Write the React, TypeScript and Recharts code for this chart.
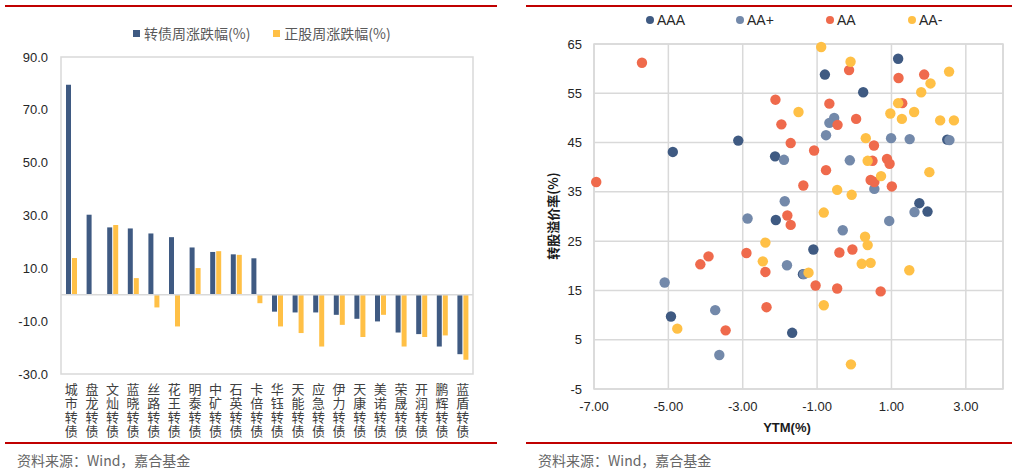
import {
  BarChart, Bar, XAxis, YAxis, ReferenceLine, ReferenceArea,
  ScatterChart, Scatter, CartesianGrid, Label,
} from 'recharts'

const NAVY = '#3F5A82'
const STEEL = '#7389AA'
const RED = '#EF6A4C'
const YELLOW = '#FFC046'
const FONT = '"Liberation Sans", "Noto Sans CJK SC", sans-serif'
const CJK = '"Noto Sans CJK SC", sans-serif'

// left: weekly change of bonds vs underlying stocks
const bondNames = [
  '城市转债', '盘龙转债', '文灿转债', '蓝晓转债', '丝路转债', '花王转债', '明泰转债',
  '中矿转债', '石英转债', '卡倍转债', '华钰转债', '天能转债', '应急转债', '伊力转债',
  '天康转债', '美诺转债', '荣晟转债', '开润转债', '鹏辉转债', '蓝盾转债',
]
const bondChg = [79.5, 30.3, 25.5, 25.1, 23.2, 21.8, 17.9, 16.2, 15.3, 13.8, -6.4, -6.7, -6.7, -7.6, -9.1, -10.1, -14.3, -14.9, -19.6, -22.5]
const stockChg = [13.9, 0.3, 26.4, 6.3, -4.8, -12.0, 10.1, 16.5, 15.1, -3.2, -12.0, -14.5, -19.6, -11.4, -16.0, -7.6, -19.6, -16.0, -15.4, -24.6]
const barTicks = [90, 70, 50, 30, 10, -10, -30]

// right: YTM vs conversion premium, by rating
const aaa = [
  [-4.88, 43.1], [-3.12, 45.4], [-4.93, 9.7], [-0.79, 58.8], [1.18, 62.0], [0.24, 55.2],
  [2.5, 45.6], [-2.13, 42.2], [1.75, 32.7], [1.97, 31.0], [-2.11, 29.3], [-1.1, 23.3],
  [-1.67, 6.4], [-1.38, 18.3],
]
const aaPlus = [
  [-2.87, 29.6], [-5.1, 16.6], [-3.74, 11.0], [-3.63, 1.9], [-0.54, 50.0], [-0.67, 49.0],
  [-0.76, 46.5], [0.99, 45.9], [1.49, 45.7], [2.56, 45.5], [-1.89, 41.5], [-0.12, 41.4],
  [0.54, 35.6], [-1.87, 33.1], [1.62, 30.9], [0.94, 29.1], [-0.31, 27.2], [-1.81, 20.1],
  [-1.35, 18.3],
]
const aa = [
  [-5.71, 61.2], [-6.94, 37.0], [-2.9, 22.6], [-2.39, 18.75], [-3.92, 21.9], [-4.14, 20.3],
  [-3.46, 6.9], [-2.36, 11.6], [-0.14, 59.7], [1.19, 58.1], [1.88, 58.8], [-2.12, 53.7],
  [-0.67, 52.9], [1.29, 53.0], [-0.45, 48.6], [0.05, 49.8], [-1.96, 48.7], [-1.71, 44.9],
  [0.53, 44.4], [-1.08, 43.4], [0.49, 41.3], [0.88, 41.7], [0.95, 40.7], [-0.76, 39.4],
  [0.44, 37.4], [0.54, 37.0], [1.01, 36.1], [-1.37, 36.3], [-1.8, 30.2], [-1.71, 28.3],
  [-0.4, 22.7], [-0.05, 23.3], [-1.04, 16.0], [-0.46, 15.4], [0.71, 14.8],
]
const aaMinus = [
  [-2.39, 24.7], [-2.46, 20.9], [-4.76, 7.25], [-0.89, 64.4], [-0.1, 61.4], [2.55, 59.4],
  [2.05, 57.0], [1.8, 55.2], [-1.5, 51.2], [1.18, 53.0], [0.97, 50.9], [1.61, 51.2],
  [1.28, 49.8], [2.31, 49.5], [2.68, 49.5], [0.31, 45.9], [0.36, 41.3], [2.02, 39.0],
  [0.72, 38.2], [-0.46, 35.4], [-0.07, 34.4], [-0.82, 30.8], [0.29, 25.9], [0.36, 24.2],
  [-1.23, 18.6], [0.2, 20.4], [0.44, 20.6], [1.48, 19.1], [-0.82, 12.0], [-0.09, 0.0],
]
const ytmTicks = [-7, -5, -3, -1, 1, 3]
const premTicks = [-5, 5, 15, 25, 35, 45, 55, 65]

const barData = bondNames.map((name, i) => ({ name, bond: bondChg[i], stock: stockChg[i] }))
const toPts = (arr: number[][]) => arr.map(([x, y]) => ({ x, y }))

const ratings = [
  { name: 'AAA', color: NAVY, data: toPts(aaa) },
  { name: 'AA+', color: STEEL, data: toPts(aaPlus) },
  { name: 'AA', color: RED, data: toPts(aa) },
  { name: 'AA-', color: YELLOW, data: toPts(aaMinus) },
]

// category names are set top-to-bottom, upright
const VerticalTick = ({ x, y, payload }: any) => (
  <text
    x={x} y={y + 1} fontSize={13} fill="#404040" fontFamily={CJK}
    style={{ writingMode: 'vertical-rl', letterSpacing: 1 }}
  >
    {payload.value}
  </text>
)

const Dot = (color: string) => (p: any) => (
  <circle cx={p.cx} cy={p.cy} r={5.2} fill={color} />
)

const redLine = (left: number, top: number, width: number) => (
  <div style={{ position: 'absolute', left, top, width, height: 1.5, background: '#C00000' }} />
)

const source = (left: number) => (
  <div style={{ position: 'absolute', left, top: 450, fontSize: 14, color: '#666', fontFamily: CJK, whiteSpace: 'nowrap' }}>
    资料来源：Wind，嘉合基金
  </div>
)

export default function App() {
  return (
    <div style={{ position: 'absolute', left: 0, top: 0, width: 1016, height: 472, background: '#fff', fontFamily: FONT }}>
      {redLine(5, 5, 492)}
      {redLine(526, 5, 486)}
      {redLine(5, 442, 492)}
      {redLine(526, 442, 486)}
      {source(17)}
      {source(538)}

      {/* left legend */}
      <div style={{ position: 'absolute', left: 133, top: 23, display: 'flex', alignItems: 'center', fontSize: 14, color: '#595959', fontFamily: CJK, whiteSpace: 'nowrap' }}>
        <span style={{ width: 7, height: 7, background: NAVY, marginRight: 4 }} />
        <span>转债周涨跌幅(%)</span>
        <span style={{ width: 7, height: 7, background: YELLOW, marginLeft: 23, marginRight: 4 }} />
        <span>正股周涨跌幅(%)</span>
      </div>

      <div style={{ position: 'absolute', left: 0, top: 0 }}>
        <BarChart width={508} height={472} data={barData} margin={{ top: 57, right: 35, bottom: 0, left: 0 }} barSize={5} barGap={1}>
          <ReferenceArea y1={-30} y2={90} fill="none" stroke="#D9D9D9" strokeWidth={1.5} />
          <XAxis dataKey="name" interval={0} height={98} tick={<VerticalTick />} tickLine={false} axisLine={false} />
          <YAxis
            domain={[-30, 90]} ticks={barTicks} width={61} interval={0}
            tickFormatter={(v: number) => v.toFixed(1)}
            tick={{ fontSize: 13, fill: '#262626', fontFamily: FONT }}
            tickLine={false} axisLine={false} tickMargin={7}
          />
          <ReferenceLine y={0} stroke="#D9D9D9" strokeWidth={1.5} />
          <Bar dataKey="bond" fill={NAVY} isAnimationActive={false} />
          <Bar dataKey="stock" fill={YELLOW} isAnimationActive={false} />
        </BarChart>
      </div>

      {/* right legend */}
      <div style={{ position: 'absolute', left: 646, top: 12, display: 'flex', alignItems: 'center', fontSize: 14, color: '#262626', whiteSpace: 'nowrap' }}>
        {ratings.map((r, i) => (
          <div key={r.name} style={{ display: 'flex', alignItems: 'center', width: i < 3 ? [90, 90, 82][i] : undefined }}>
            <span style={{ width: 8, height: 8, borderRadius: 4, background: r.color, marginRight: 3 }} />
            <span>{r.name}</span>
          </div>
        ))}
      </div>

      <div style={{ position: 'absolute', left: 508, top: 0 }}>
        <ScatterChart width={508} height={472} margin={{ top: 44, right: 13, bottom: 0, left: 0 }}>
          <CartesianGrid stroke="#D9D9D9" strokeWidth={1.5} />
          <ReferenceArea x1={-7} x2={4} y1={-5} y2={65} fill="none" stroke="#D9D9D9" strokeWidth={1.5} />
          <XAxis
            type="number" dataKey="x" domain={[-7, 4]} ticks={ytmTicks} interval={0} height={83}
            tickFormatter={(v: number) => v.toFixed(2)}
            tick={{ fontSize: 13, fill: '#262626', fontFamily: FONT }}
            tickLine={false} axisLine={false} tickMargin={7}
          >
            <Label
              content={() => (
                <text x={279} y={432} textAnchor="middle" fontSize={13} fontWeight="bold" fill="#1a1a1a" fontFamily={FONT}>YTM(%)</text>
              )}
            />
          </XAxis>
          <YAxis
            type="number" dataKey="y" domain={[-5, 65]} ticks={premTicks} interval={0} width={86}
            tick={{ fontSize: 13, fill: '#262626', fontFamily: FONT }}
            tickLine={false} axisLine={false} tickMargin={6}
          >
            <Label
              content={() => (
                <text x={44} y={216} transform="rotate(-90 44 216)" textAnchor="middle" dominantBaseline="central" fontSize={13} fontWeight="bold" fill="#1a1a1a" fontFamily={CJK}>转股溢价率(%)</text>
              )}
            />
          </YAxis>
          {ratings.map((r) => (
            <Scatter key={r.name} name={r.name} data={r.data} fill={r.color} shape={Dot(r.color)} isAnimationActive={false} />
          ))}
        </ScatterChart>
      </div>
    </div>
  )
}
